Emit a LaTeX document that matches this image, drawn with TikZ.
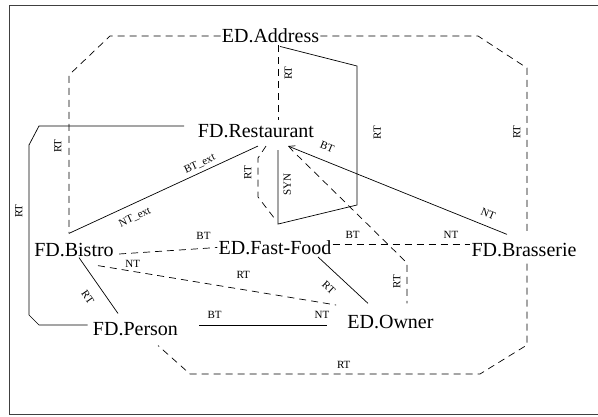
\documentclass[tikz,border=0pt]{standalone}
\usepackage{fontspec}
\setmainfont{Liberation Serif}
\usetikzlibrary{arrows.meta}

\tikzset{
  conc/.style={inner sep=1pt, font=\fontsize{20}{24}\selectfont},
  lbl/.style={inner sep=1pt, font=\fontsize{11}{13}\selectfont},
  dline/.style={dash pattern=on 7pt off 5pt},
}

\begin{document}
\begin{tikzpicture}[x=1pt, y=-1pt, line width=0.7pt, >={Straight Barb[length=6pt,width=6pt]}]
    \useasboundingbox (0,0) rectangle (598,417);
    % Frame
    \draw[line width=0.9pt, black!75] (9,5.5) rectangle (598,414);

    % Concepts
    \node[conc] (addr)   at (270.5,36)    {ED.Address};
    \node[conc] (rest)   at (256,131)     {FD.Restaurant};
    \node[conc] (bistro) at (74,250.5)    {FD.Bistro};
    \node[conc] (fast)   at (275,247.5)   {ED.Fast-Food};
    \node[conc] (brass)  at (524,250.5)   {FD.Brasserie};
    \node[conc] (person) at (135.5,329.5) {FD.Person};
    \node[conc] (owner)  at (390.5,322.5) {ED.Owner};

    % Outer loops
    \draw[dline] (addr.west) -- (110,36) -- (69,75) -- ([xshift=-5pt,yshift=9pt]bistro.north)
        node[lbl, pos=.45, rotate=90, above=6.3pt] {RT};
    \draw[dline] (addr.east) -- (478,36) -- (527,68) -- ([xshift=3pt,yshift=10pt]brass.north)
        node[lbl, pos=.39, rotate=90, above=5.3pt] {RT};
    \draw[dline] ([xshift=3pt,yshift=-5pt]brass.south) -- (527,345) -- (480,374) -- (190,374)
        node[lbl, pos=.47, above=4.3pt] {RT} -- ([xshift=22.5pt,yshift=-8pt]person.south);
    \draw ([xshift=-12.5pt,yshift=5pt]rest.west) -- (39,126) -- (29,145) -- (29,315)
        node[lbl, pos=.39, rotate=90, above=5.3pt] {RT} -- (39,325) -- ([xshift=-4pt,yshift=4.5pt]person.west);

    % Around FD.Restaurant
    \draw[dline] ([xshift=7.5pt,yshift=-1pt]addr.south) -- ([xshift=22pt,yshift=3pt]rest.north)
        node[lbl, pos=.37, rotate=90, below=5.3pt] {RT};
    \draw ([xshift=9.5pt,yshift=-2pt]addr.south) -- (357,66) -- (357,205)
        node[lbl, pos=.48, rotate=90, below=15.3pt] {RT}
        -- ([xshift=3pt,yshift=15pt]fast.north) -- ([xshift=22pt,yshift=-11pt]rest.south)
        node[lbl, pos=.53, rotate=90, below=4.3pt] {SYN};
    \draw[dline] ([xshift=10pt,yshift=-7pt]rest.south) -- (258,158) -- (258,197)
        node[lbl, pos=.38, rotate=90, above=5.3pt] {RT} -- ([yshift=20pt]fast.north);
    \draw[dline] ([xshift=41pt,yshift=-16pt]rest.south) -- (407,263) -- ([xshift=16.5pt,yshift=11pt]owner.north)
        node[lbl, pos=.46, rotate=90, above=5.3pt] {RT};
    \draw[->] ([xshift=-17pt,yshift=8pt]brass.north) -- ([xshift=32pt,yshift=-7pt]rest.south)
        node[lbl, pos=.106, sloped, above=6.7pt] {NT}
        node[lbl, pos=.845, sloped, above=9.1pt] {BT};
    \draw ([xshift=-5pt,yshift=9pt]bistro.north) -- ([xshift=2pt,yshift=-7pt]rest.south)
        node[lbl, pos=.32, sloped, below=7.5pt] {NT\_ext}
        node[lbl, pos=.71, sloped, above=2.5pt] {BT\_ext};

    % Middle row
    \draw[dline] ([xshift=4pt,yshift=-3.5pt]bistro.east) -- (fast.west)
        node[lbl, pos=.86, above=7.3pt] {BT};
    \draw[dline] ([yshift=3.5pt]fast.east) -- ([yshift=6.5pt]brass.west)
        node[lbl, pos=.145, above=4.3pt] {BT}
        node[lbl, pos=.86, above=4.3pt] {NT};
    \draw[dline] ([xshift=24pt,yshift=-7pt]bistro.south) -- ([xshift=-10pt,yshift=17.5pt]owner.west)
        node[lbl, pos=.146, above=2.2pt] {NT}
        node[lbl, pos=.61, above=9.6pt] {RT};

    % Lower part
    \draw ([xshift=5pt,yshift=1pt]bistro.south) -- ([xshift=-17.5pt,yshift=8pt]person.north)
        node[lbl, pos=.55, sloped, below=10.5pt] {RT};
    \draw ([xshift=43pt,yshift=-1pt]fast.south) -- ([xshift=-22.5pt,yshift=11pt]owner.north)
        node[lbl, pos=.42, sloped, below=10pt] {RT};
    \draw ([xshift=20pt,yshift=4.5pt]person.east) -- ([xshift=-19pt,yshift=-2.5pt]owner.west)
        node[lbl, pos=.12, above=5.3pt] {BT}
        node[lbl, pos=.96, above=5.3pt] {NT};
\end{tikzpicture}
\end{document}
